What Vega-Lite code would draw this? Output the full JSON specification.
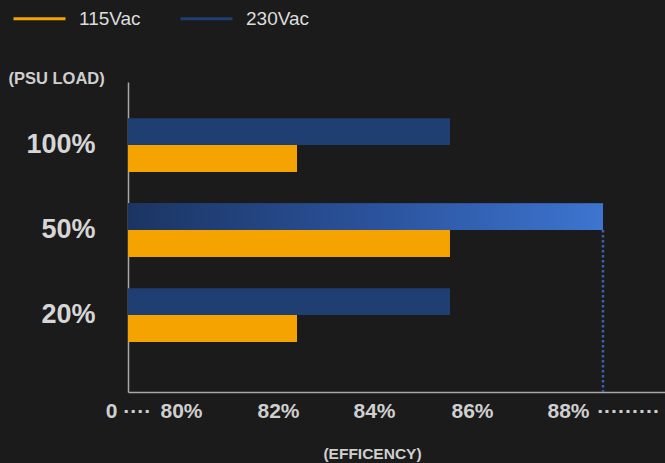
{
  "$schema": "https://vega.github.io/schema/vega-lite/v6.json",
  "width": 537,
  "height": 310,
  "autosize": {"type": "none"},
  "padding": {"left": 128, "top": 82, "right": 0, "bottom": 71},
  "background": "#1b1b1b",
  "config": {"view": {"stroke": null}, "font": "Liberation Sans"},
  "data": {
    "values": [
      {"load": "100%", "series": "230Vac", "eff": 85},
      {"load": "100%", "series": "115Vac", "eff": 82},
      {"load": "50%", "series": "230Vac", "eff": 88},
      {"load": "50%", "series": "115Vac", "eff": 85},
      {"load": "20%", "series": "230Vac", "eff": 85},
      {"load": "20%", "series": "115Vac", "eff": 82}
    ]
  },
  "layer": [
    {
      "mark": {"type": "bar", "clip": true},
      "encoding": {
        "y": {
          "field": "load", "type": "nominal", "sort": ["100%", "50%", "20%"],
          "scale": {"paddingInner": 0.365, "paddingOuter": 0.506, "align": 0.42},
          "axis": {
            "title": "(PSU LOAD)", "titleAngle": 0, "titleX": -120, "titleY": -4,
            "titleAlign": "left", "titleBaseline": "middle", "titleFontSize": 16.5,
            "titleFontWeight": "bold", "titleColor": "#cfcfcf",
            "labelFontSize": 27, "labelFontWeight": "bold", "labelColor": "#d6d6d6",
            "labelPadding": 33, "ticks": false,
            "domainColor": "#a8a8a8", "domainWidth": 1.5
          }
        },
        "yOffset": {"field": "series", "type": "nominal", "sort": ["230Vac", "115Vac"], "scale": {"paddingInner": 0, "paddingOuter": 0}},
        "x": {
          "field": "eff", "type": "quantitative",
          "scale": {"domain": [78.686, 89.216], "nice": false, "zero": false},
          "axis": {
            "values": [78.686, 80, 82, 84, 86, 88, 88.61],
            "labelExpr": "datum.value < 79 ? '0 ····' : (datum.value > 88.2 ? '·········' : format(datum.value, 'd') + '%')",
            "labelFontSize": 21, "labelFontWeight": "bold", "labelColor": "#cfcfcf",
            "labelPadding": 8, "labelOverlap": false, "labelFlush": false, "labelBound": false,
            "labelOffset": {"condition": [
              {"test": "datum.value < 79", "value": 0},
              {"test": "datum.value == 80", "value": -14},
              {"test": "datum.value == 82", "value": -19},
              {"test": "datum.value == 84", "value": -25},
              {"test": "datum.value == 86", "value": -29},
              {"test": "datum.value == 88", "value": -35}
            ], "value": -6},
            "ticks": false, "grid": false,
            "domainColor": "#a8a8a8", "domainWidth": 1.5,
            "title": "(EFFICENCY)", "titleFontSize": 15.5, "titleFontWeight": "bold",
            "titleColor": "#cfcfcf", "titleX": 244, "titleY": 61, "titleAlign": "center",
            "titleBaseline": "middle", "titleAnchor": null
          }
        },
        "x2": {"datum": 78.686},
        "color": {
          "field": "series", "type": "nominal",
          "scale": {"domain": ["115Vac", "230Vac"], "range": ["#f5a300", "#1f3e72"]},
          "legend": {
            "orient": "none", "legendX": -116, "legendY": -91, "direction": "horizontal",
            "title": null, "symbolType": "stroke", "symbolSize": 2700, "symbolStrokeWidth": 3,
            "labelFontSize": 19, "labelColor": "#dddddd", "columnPadding": 33, "labelOffset": 12,
            "encode": {"symbols": {"update": {"stroke": {"scale": "color", "field": "value"}, "strokeWidth": {"value": 3}}}}
          }
        }
      }
    },
    {
      "transform": [{"filter": "datum.load == '50%' && datum.series == '230Vac'"}],
      "mark": {
        "type": "bar", "clip": true,
        "color": {"gradient": "linear", "x1": 0, "x2": 1, "y1": 0, "y2": 0,
          "stops": [{"offset": 0, "color": "#1b3562"}, {"offset": 0.5, "color": "#2a519a"}, {"offset": 1, "color": "#3d75d0"}]}
      },
      "encoding": {
        "y": {"field": "load", "type": "nominal", "sort": ["100%", "50%", "20%"]},
        "yOffset": {"field": "series", "type": "nominal", "sort": ["230Vac", "115Vac"]},
        "x": {"field": "eff", "type": "quantitative"},
        "x2": {"datum": 78.686}
      }
    },
    {
      "transform": [{"filter": "datum.load == '50%' && datum.series == '230Vac'"}],
      "mark": {"type": "rule", "color": "#3d60ad", "strokeDash": [2.5, 2.5], "strokeWidth": 2.5},
      "encoding": {
        "y": {"field": "load", "type": "nominal", "sort": ["100%", "50%", "20%"], "bandPosition": 0.5},
        "y2": {"value": {"expr": "height"}},
        "x": {"field": "eff", "type": "quantitative"}
      }
    }
  ]
}
